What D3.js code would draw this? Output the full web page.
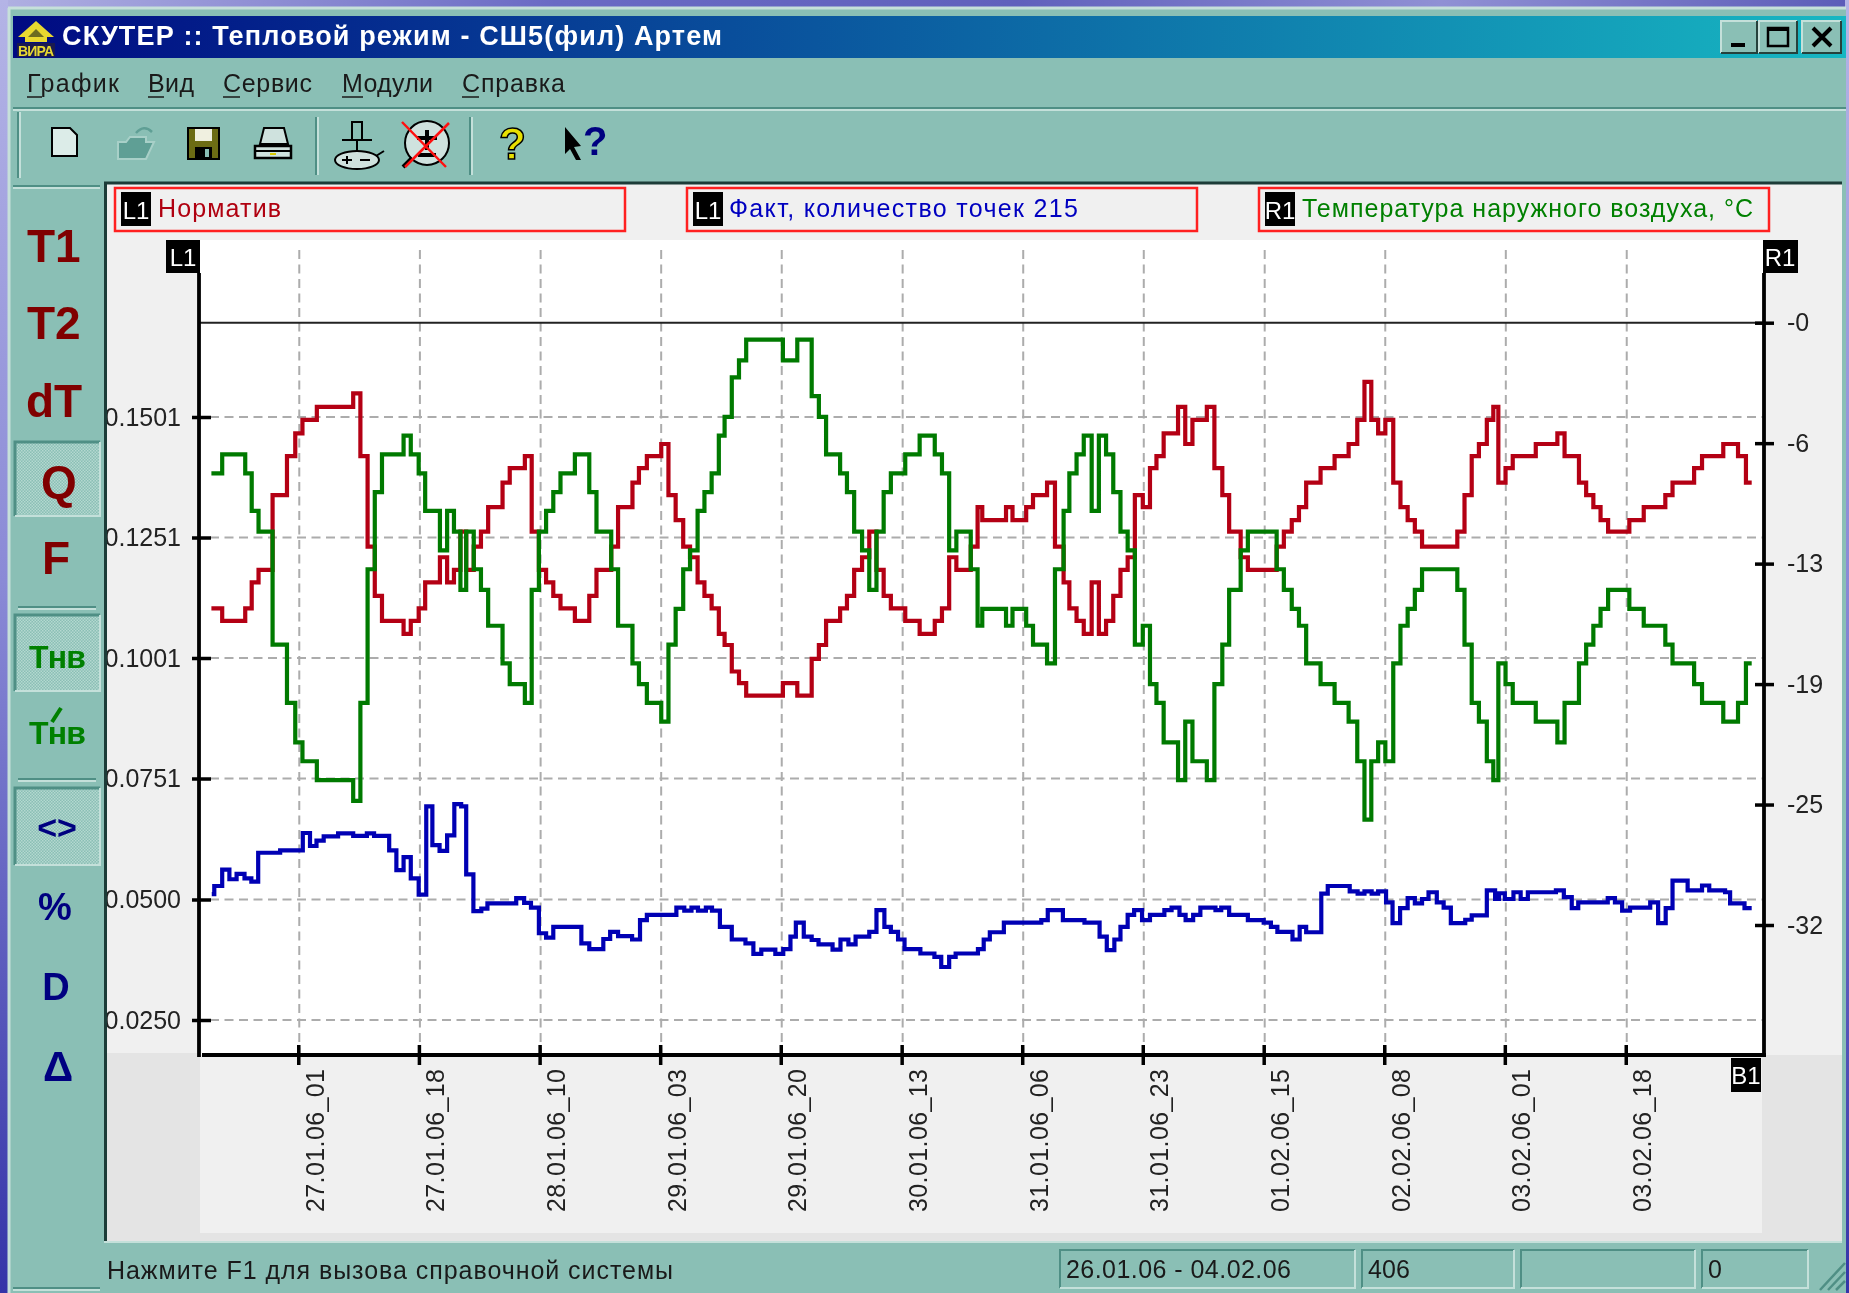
<!DOCTYPE html>
<html>
<head>
<meta charset="utf-8">
<style>
  html, body { margin: 0; padding: 0; background: #8abfb5; overflow: hidden; }
  svg { display: block; filter: blur(0.6px); }
  text { font-family: "Liberation Sans", Arial, sans-serif; }
</style>
<script src="https://cdnjs.cloudflare.com/ajax/libs/d3/7.8.5/d3.min.js"></script>
</head>
<body>
<div id="chart"></div>
<script>
// Chart Params
var svgWidth = 1849;
var svgHeight = 1293;

// tick labels
var leftTicks = [0.1501, 0.1251, 0.1001, 0.0751, 0.05, 0.025];
var rightTicks = [0, -6.4, -12.8, -19.2, -25.6, -32];
var rightLabels = ["-0", "-6", "-13", "-19", "-25", "-32"];
var dateTickPos = [12.07, 28.83, 45.6, 62.35, 79.1, 95.9, 112.65, 129.4, 146.2, 162.95, 179.7, 196.5];
var dateLabels = ["27.01.06_01", "27.01.06_18", "28.01.06_10", "29.01.06_03", "29.01.06_20", "30.01.06_13",
  "31.01.06_06", "31.01.06_23", "01.02.06_15", "02.02.06_08", "03.02.06_01", "03.02.06_18"];
var lastPoint = 214;

// point position where the stepped value changes (norm and outdoor temp change together)
var stepPos = [0, 1.5, 4.7, 5.6, 6.55, 8.5, 10.5, 11.65, 12.65, 14.65, 19.7, 20.7, 21.7, 22.7, 23.7, 26.7, 27.7, 28.8, 29.7,
  31.75, 32.75, 33.7, 34.6, 35.4, 36.45, 37.45, 38.45, 40.45, 41.45, 43.55, 44.5, 45.5, 46.5, 47.5, 48.5, 50.5, 52.5, 53.5,
  55.55, 56.5, 58.5, 59.4, 60.5, 62.5, 63.5, 64.5, 65.55, 66.5, 67.55, 68.5, 69.5, 70.5, 71.3, 72.3, 73.3, 74.3, 79.4, 81.4,
  83.4, 84.4, 85.4, 87.35, 88.3, 89.3, 90.4, 91.4, 92.4, 93.4, 94.4, 96.4, 98.4, 100.5, 101.5, 102.5, 103.5, 105.5, 106.45,
  107.1, 110.4, 111.3, 113.2, 114.15, 116.1, 117.2, 118.4, 119.2, 120.2, 121.2, 122.3, 123.3, 124.3, 125.3, 126.3, 127.3,
  128.3, 129.4, 130.4, 131.3, 132.3, 134.3, 135.3, 136.3, 138.3, 139.35, 140.45, 141.4, 143, 144, 148, 149, 150.1, 151.1,
  152.1, 154.1, 156.05, 158, 159.2, 160.2, 161.15, 162.1, 163.1, 164.2, 165.2, 166.2, 167.2, 168.2, 173.1, 174.1, 175.1,
  176.1, 177.2, 178.1, 178.8, 179.8, 180.8, 184, 187, 188, 190, 191, 192, 193, 194.05, 197, 199, 202, 203, 206, 207.1,
  210.05, 212.1, 213.2];

// green line, right axis, degrees C
var tempValues = [-8, -7, -8, -10, -11.1, -17.1, -20.2, -22.3, -23.3, -24.3, -25.4, -20.2, -13.1, -9, -7, -6, -7, -8, -10,
  -12.1, -10, -11.1, -14.2, -11.1, -13.1, -14.2, -16.1, -18.1, -19.2, -20.2, -14.2, -11.1, -10, -9, -8, -7, -9, -11.1,
  -13.1, -16.1, -18.1, -19.2, -20.2, -21.2, -17.1, -15.2, -13.1, -12.1, -10, -9, -8, -6, -5, -2.9, -2, -0.9, -2, -0.9,
  -3.9, -5, -7, -8, -9, -11.1, -12.1, -14.2, -11.1, -9, -8, -7, -6, -7, -8, -12.1, -11.1, -13.1, -16.1,
  -15.2, -16.1, -15.2, -16.1, -17.1, -18.1, -13.1, -10, -8, -7, -6, -10, -6, -7, -9, -11.1, -12.1,
  -17.1, -16.1, -19.2, -20.2, -22.3, -24.3, -21.2, -23.3, -24.3, -19.2, -17.1, -14.2, -12.1, -11.1, -13.1, -14.2, -15.2, -16.1,
  -18.1, -19.2, -20.2, -21.2, -23.3, -26.4, -23.3, -22.3, -23.3, -18.1, -16.1, -15.2, -14.2, -13.1, -14.2, -17.1, -20.2,
  -21.2, -23.3, -24.3, -18.1, -19.2, -20.2, -21.2, -22.3, -20.2, -18.1, -17.1, -16.1, -15.2, -14.2, -15.2, -16.1, -17.1, -18.1, -19.2, -20.2,
  -21.2, -20.2, -18.1];

// red line, left axis
var normValues = [.1104, .1078, .1104, .1158, .1184, .1339, .1420, .1467, .1495, .1522, .1550, .1420, .1232, .1130, .1078, .1051, .1078, .1104, .1158,
  .1210, .1158, .1184, .1263, .1184, .1232, .1263, .1314, .1365, .1395, .1420, .1263, .1184, .1158, .1130, .1104, .1078, .1130, .1184,
  .1232, .1314, .1365, .1395, .1420, .1445, .1339, .1287, .1232, .1210, .1158, .1130, .1104, .1051, .1028, .0973, .0949, .0923, .0949, .0923,
  .0999, .1028, .1078, .1104, .1130, .1184, .1210, .1263, .1184, .1130, .1104, .1078, .1051, .1078, .1104, .1210, .1184, .1232, .1314,
  .1287, .1314, .1287, .1314, .1339, .1365, .1232, .1158, .1104, .1078, .1051, .1158, .1051, .1078, .1130, .1184, .1210,
  .1339, .1314, .1395, .1420, .1467, .1522, .1445, .1495, .1522, .1395, .1339, .1263, .1210, .1184, .1232, .1263, .1287, .1314,
  .1365, .1395, .1420, .1445, .1495, .1574, .1495, .1467, .1495, .1365, .1314, .1287, .1263, .1232, .1263, .1339, .1420,
  .1445, .1495, .1522, .1365, .1395, .1420, .1445, .1467, .1420, .1365, .1339, .1314, .1287, .1263, .1287, .1314, .1339, .1365, .1395, .1420,
  .1445, .1420, .1365];

// blue line, left axis
var factPos = [0.05, 0.4, 1.5, 2.5, 3.5, 4.6, 5.55, 6.5, 9.55, 12.7, 13.7, 14.6, 15.6, 17.6, 19.7, 21.6, 22.6, 24.7, 25.7, 26.7, 27.7, 28.8,
  29.85, 30.7, 31.7, 32.75, 33.75, 34.7, 35.4, 36.4, 37.5, 38.35, 42.35, 43.45, 44.4, 45.5, 46.5, 47.5, 51.4, 52.5, 54.45, 55.4, 56.5,
  58.45, 59.55, 60.5, 64.6, 65.7, 66.7, 67.6, 68.7, 69.55, 70.65, 72.3, 74.2, 75.3, 76.4, 78.35, 79.45, 80.45, 81.2, 82.3, 83.4, 84.35,
  86.3, 87.4, 88.5, 89.5, 91.4, 92.4, 93.5, 94.4, 95.4, 96.3, 98.5, 100.45, 101.4, 102.5, 103.4, 106.5, 107.3, 108.15, 110.1, 115.3,
  116.2, 118.3, 121.3, 123.4, 124.4, 125.45, 126.3, 127.3, 128.2, 129.3, 130.4, 132.4, 133.4, 134.5, 135.35, 136.4, 137.4, 139.5, 140.3,
  141.4, 144, 146.2, 147.2, 148.1, 150.2, 151.2, 152.1, 154.2, 155.1, 158.15, 159.25, 160.2, 161.2, 162.1, 163.2, 164.1, 165.15, 166.2,
  167.2, 168.2, 169.1, 170.25, 171.2, 172.2, 174.2, 175.1, 177.2, 178.35, 178.9, 179.7, 180.9, 181.9, 182.9, 186.8, 187.9, 189, 189.9,
  194, 195, 196, 197.1, 199.9, 201, 202.05, 203, 205.1, 207.1, 208.1, 210.3, 211, 213];
var factValues = [.0511, .0528, .0562, .0542, .0553, .0544, .0537, .0597, .0602, .0638, .0611, .0622, .0631, .0637, .0632, .0637, .0632, .0602, .0561, .0588, .0544, .0510,
  .0693, .0613, .0601, .0633, .0698, .0693, .0552, .0476, .0481, .0492, .0503, .0493, .0483, .0430, .0421, .0443, .0409, .0397, .0418, .0433, .0424,
  .0417, .0457, .0468, .0483, .0477, .0483, .0477, .0483, .0477, .0443, .0417, .0409, .0387, .0396, .0387, .0397, .0423, .0452, .0423, .0416, .0407,
  .0396, .0417, .0407, .0423, .0433, .0478, .0443, .0433, .0417, .0397, .0388, .0381, .0360, .0381, .0388, .0397, .0417, .0432, .0452, .0457,
  .0478, .0457, .0452, .0423, .0395, .0417, .0443, .0468, .0478, .0457, .0468, .0478, .0483, .0468, .0457, .0468, .0483, .0478, .0483,
  .0468, .0457, .0452, .0443, .0433, .0417, .0443, .0432, .0512, .0528, .0517, .0512, .0517, .0512, .0517, .0494, .0451, .0482, .0503,
  .0492, .0501, .0515, .0494, .0483, .0451, .0458, .0467, .0519, .0501, .0513, .0501, .0515, .0501, .0515, .0519, .0505, .0482, .0494,
  .0503, .0494, .0477, .0483, .0494, .0451, .0482, .0539, .0519, .0529, .0519, .0515, .0492, .0482];

// legend and window texts
var legendTexts = ["Норматив", "Факт, количество точек 215", "Температура наружного воздуха, °С"];
var menuItems = ["График", "Вид", "Сервис", "Модули", "Справка"];
var statusTexts = ["26.01.06 - 04.02.06", "406", "", "0"];

var plot = { left: 200, right: 1764, top: 240, bottom: 1055 };

var svg = d3.select("#chart").append("svg")
  .attr("width", svgWidth)
  .attr("height", svgHeight);

var defs = svg.append("defs");

var titleGrad = defs.append("linearGradient").attr("id", "titleGrad");
titleGrad.append("stop").attr("offset", "0").attr("stop-color", "#000a82");
titleGrad.append("stop").attr("offset", "1").attr("stop-color", "#17b7c2");

var leftBg = defs.append("linearGradient").attr("id", "leftBg").attr("x2", 0).attr("y2", 1);
leftBg.append("stop").attr("offset", "0").attr("stop-color", "#b4b4e6");
leftBg.append("stop").attr("offset", "0.45").attr("stop-color", "#8a8ad6");
leftBg.append("stop").attr("offset", "1").attr("stop-color", "#3434a8");

var topBg = defs.append("linearGradient").attr("id", "topBg");
topBg.append("stop").attr("offset", "0").attr("stop-color", "#b0b0e2");
topBg.append("stop").attr("offset", "0.3").attr("stop-color", "#6a6ac4");
topBg.append("stop").attr("offset", "0.55").attr("stop-color", "#6060bc");
topBg.append("stop").attr("offset", "0.78").attr("stop-color", "#9090d4");
topBg.append("stop").attr("offset", "1").attr("stop-color", "#5c5cb8");

var dither = defs.append("pattern").attr("id", "dither")
  .attr("width", 3).attr("height", 3).attr("patternUnits", "userSpaceOnUse");
dither.append("rect").attr("width", 3).attr("height", 3).attr("fill", "#8abfb5");
dither.append("rect").attr("width", 1.5).attr("height", 1.5).attr("fill", "#b4d8d0");
dither.append("rect").attr("x", 1.5).attr("y", 1.5).attr("width", 1.5).attr("height", 1.5).attr("fill", "#b4d8d0");

defs.append("clipPath").attr("id", "panelClip").append("rect")
  .attr("x", 107).attr("y", 184).attr("width", 1735).attr("height", 1056);

// small helpers for the window chrome
function box(g, x, y, w, h, fill, stroke, sw) {
  return g.append("rect").attr("x", x).attr("y", y).attr("width", w).attr("height", h)
    .attr("fill", fill || "none").attr("stroke", stroke || "none").attr("stroke-width", sw || 0);
}
function line(g, x1, y1, x2, y2, color, sw) {
  return g.append("line").attr("x1", x1).attr("y1", y1).attr("x2", x2).attr("y2", y2)
    .attr("stroke", color).attr("stroke-width", sw || 1);
}
function label(g, x, y, str, size, fill, opts) {
  opts = opts || {};
  var t = g.append("text").attr("x", x).attr("y", y).text(str)
    .attr("font-size", size).attr("fill", fill)
    .attr("font-weight", opts.weight || "normal")
    .attr("text-anchor", opts.anchor || "start");
  if (opts.len) t.attr("textLength", opts.len).attr("lengthAdjust", opts.adjust || "spacing");
  return t;
}
function etched(g, x1, y1, x2, y2) {
  line(g, x1, y1, x2, y2, "#4f8f85", 2);
  if (x1 === x2) line(g, x1 + 2, y1, x2 + 2, y2, "#c4e0da", 2);
  else line(g, x1, y1 + 2, x2, y2 + 2, "#c4e0da", 2);
}
function pressed(g, x, y, w, h) {
  box(g, x, y, w, h, "url(#dither)");
  g.append("path").attr("d", `M${x},${y + h}V${y}H${x + w}`).attr("fill", "none").attr("stroke", "#4f8f85").attr("stroke-width", 3);
  g.append("path").attr("d", `M${x + w},${y}V${y + h}H${x}`).attr("fill", "none").attr("stroke", "#c4e0da").attr("stroke-width", 2);
}

// ---- window background ----
var chrome = svg.append("g");
box(chrome, 0, 0, svgWidth, 8, "url(#topBg)");
box(chrome, 0, 0, 8, svgHeight, "url(#leftBg)");
box(chrome, 1845, 0, 4, svgHeight, "url(#leftBg)");
box(chrome, 8, 8, 1838, 1285, "#8abfb5");
line(chrome, 8, 8, 1846, 8, "#c6e0da", 3);
line(chrome, 9, 8, 9, 1293, "#c6e0da", 3);

// title bar
box(chrome, 13, 16, 1833, 42, "url(#titleGrad)");
chrome.append("path").attr("d", "M36,21L54,37L47,37L47,42L25,42L25,37L18,37Z").attr("fill", "#e8d830");
chrome.append("path").attr("d", "M36,29L44,37L28,37Z").attr("fill", "#6c6c20");
box(chrome, 17, 43, 38, 14, "#1a1a50");
label(chrome, 18, 56, "ВИРА", 14, "#e8d830", { weight: "bold", len: 36 });
label(chrome, 62, 45, "СКУТЕР :: Тепловой режим - СШ5(фил) Артем", 27, "#ffffff", { weight: "bold", len: 660 });

// min / max / close
[[1721, 36], [1759, 38], [1802, 39]].forEach(function(b) {
  box(chrome, b[0], 21, b[1], 32, "#8abfb5");
  chrome.append("path").attr("d", `M${b[0]},53V21H${b[0] + b[1]}`).attr("fill", "none").attr("stroke", "#c4e0da").attr("stroke-width", 2);
  chrome.append("path").attr("d", `M${b[0] + b[1]},21V53H${b[0]}`).attr("fill", "none").attr("stroke", "#26413c").attr("stroke-width", 2);
});
box(chrome, 1731, 43, 14, 4, "#000");
box(chrome, 1768, 28, 20, 18, "none", "#000", 2.5);
line(chrome, 1768, 29, 1788, 29, "#000", 4);
chrome.append("path").attr("d", "M1813,28L1831,46M1831,28L1813,46").attr("stroke", "#000").attr("stroke-width", 4);

// menu
var menuX = [27, 148, 223, 342, 462];
var menuLen = [92, 46, 89, 91, 103];
var menuFirst = [15, 16, 17, 21, 17];
menuItems.forEach(function(m, i) {
  label(chrome, menuX[i], 92, m, 25, "#1a1a1a", { len: menuLen[i] });
  line(chrome, menuX[i], 97, menuX[i] + menuFirst[i], 97, "#1a1a1a", 1.5);
});
etched(chrome, 13, 108, 1846, 108);

// toolbar
etched(chrome, 18, 112, 18, 178);
etched(chrome, 316, 117, 316, 175);
etched(chrome, 470, 117, 470, 175);
etched(chrome, 13, 186, 100, 186);

// new page
chrome.append("path").attr("d", "M52,128H70L77,135V156H52Z").attr("fill", "#dcecE8").attr("stroke", "#000").attr("stroke-width", 2);
// open (disabled)
chrome.append("path").attr("d", "M118,142H126L130,137H146V142L154,142L146,159H118Z").attr("fill", "#5f9f95").attr("stroke", "#a8d0c8").attr("stroke-width", 2);
chrome.append("path").attr("d", "M136,133Q144,124 152,132").attr("fill", "none").attr("stroke", "#5f9f95").attr("stroke-width", 2.5);
// save
box(chrome, 188, 128, 31, 31, "#6c6c14", "#000", 2);
box(chrome, 195, 129, 17, 12, "#f0f0e0");
box(chrome, 195, 147, 17, 12, "#000");
box(chrome, 205, 149, 4, 8, "#8abfb5");
// print
chrome.append("path").attr("d", "M264,128H284L288,144H260Z").attr("fill", "#cfe2de").attr("stroke", "#000").attr("stroke-width", 2);
chrome.append("path").attr("d", "M255,146H291V158H255Z").attr("fill", "#cfe2de").attr("stroke", "#000").attr("stroke-width", 2.5);
line(chrome, 255, 151, 291, 151, "#000", 2);
line(chrome, 270, 154, 276, 154, "#d8c800", 2);
// zoom in
chrome.append("path").attr("d", "M352,122H362V140H352ZM357,140V150").attr("fill", "#8abfb5").attr("stroke", "#000").attr("stroke-width", 2);
line(chrome, 342, 140, 372, 140, "#000", 2);
chrome.append("ellipse").attr("cx", 357).attr("cy", 160).attr("rx", 22).attr("ry", 9).attr("fill", "#cfe2de").attr("stroke", "#000").attr("stroke-width", 2);
chrome.append("path").attr("d", "M342,160H352M347,156V164M360,160H370M376,156L384,151").attr("stroke", "#000").attr("stroke-width", 2);
// zoom out (crossed)
chrome.append("circle").attr("cx", 427).attr("cy", 143).attr("r", 22).attr("fill", "#cfe2de").attr("stroke", "#000").attr("stroke-width", 2);
chrome.append("path").attr("d", "M427,130V150M417,138H437M418,155H436M412,158L403,167").attr("stroke", "#000").attr("stroke-width", 4);
chrome.append("path").attr("d", "M402,122L446,167M449,123L405,167").attr("stroke", "#ff1010").attr("stroke-width", 2.5);
// help
label(chrome, 499, 159, "?", 44, "#e8e000", { weight: "bold" }).attr("stroke", "#000").attr("stroke-width", 1.5);
chrome.append("path").attr("d", "M565,127L581,146L574,147L581,160L576,160L570,149L565,154Z").attr("fill", "#000");
label(chrome, 583, 155, "?", 40, "#000080", { weight: "bold" }).attr("font-family", "Liberation Serif");

// left tool strip
[[442, 74], [615, 76], [788, 77]].forEach(function(b) { pressed(chrome, 15, b[0], 85, b[1]); });
etched(chrome, 18, 607, 96, 607);
etched(chrome, 18, 779, 96, 779);
label(chrome, 27, 262, "T1", 46, "#800000", { weight: "bold" });
label(chrome, 27, 339, "T2", 46, "#800000", { weight: "bold" });
label(chrome, 26, 417, "dT", 46, "#800000", { weight: "bold" });
label(chrome, 59, 498, "Q", 46, "#800000", { weight: "bold", anchor: "middle" });
label(chrome, 56, 574, "F", 46, "#800000", { weight: "bold", anchor: "middle" });
label(chrome, 29, 668, "Тнв", 32, "#008000", { weight: "bold", len: 57 });
label(chrome, 29, 744, "Тнв", 32, "#008000", { weight: "bold", len: 57 });
chrome.append("path").attr("d", "M52,722L61,708").attr("stroke", "#008000").attr("stroke-width", 4);
label(chrome, 57, 839, "<>", 34, "#000080", { weight: "bold", anchor: "middle" });
label(chrome, 55, 920, "%", 38, "#000080", { weight: "bold", anchor: "middle" });
label(chrome, 56, 1000, "D", 38, "#000080", { weight: "bold", anchor: "middle" });
label(chrome, 58, 1081, "Δ", 42, "#000080", { weight: "bold", anchor: "middle" });

// status bar
label(chrome, 107, 1279, "Нажмите F1 для вызова справочной системы", 25, "#1a1a1a", { len: 566 });
var statusBoxes = [[1060, 295], [1362, 152], [1521, 174], [1702, 106]];
var statusLen = [225, 42, 0, 12];
statusBoxes.forEach(function(b, i) {
  box(chrome, b[0], 1250, b[1], 38, "none", null);
  chrome.append("path").attr("d", `M${b[0]},1288V1250H${b[0] + b[1]}`).attr("fill", "none").attr("stroke", "#4f8f85").attr("stroke-width", 2);
  chrome.append("path").attr("d", `M${b[0] + b[1]},1250V1288H${b[0]}`).attr("fill", "none").attr("stroke", "#c4e0da").attr("stroke-width", 2);
  if (statusTexts[i]) label(chrome, b[0] + 6, 1278, statusTexts[i], 25, "#1a1a1a", { len: statusLen[i] });
});
chrome.append("path").attr("d", "M1820,1290L1845,1263M1828,1290L1845,1272M1836,1290L1845,1281").attr("stroke", "#4f8f85").attr("stroke-width", 2.5);
etched(chrome, 13, 1288, 100, 1288);

// ---- chart panel ----
var panel = svg.append("g");
box(panel, 104, 182, 1738, 1059, "#f0f0f0");
box(panel, 107, 1053, 93, 187, "#e4e4e4");
box(panel, 1762, 1055, 80, 185, "#e4e4e4");
box(panel, 107, 1233, 1735, 8, "#e4e4e4");
line(panel, 105.5, 182, 105.5, 1241, "#1c3c38", 3);
line(panel, 104, 183, 1842, 183, "#1c3c38", 3);
line(panel, 104, 1242, 1842, 1242, "#c4e0da", 2);
box(panel, plot.left, plot.top, plot.right - plot.left, plot.bottom - plot.top, "#ffffff");

// legend
var legendBoxX = [115, 687, 1259];
var legendColors = ["#b00010", "#0000c0", "#008000"];
var legendTextX = [158, 729, 1302];
var legendLen = [123, 349, 451];
var legendTags = ["L1", "L1", "R1"];
legendTexts.forEach(function(t, i) {
  box(panel, legendBoxX[i], 188, 510, 43, "#f0f0f0", "#ff2020", 2.5);
  box(panel, legendBoxX[i] + 6, 192, 30, 34, "#000");
  label(panel, legendBoxX[i] + 21, 219, legendTags[i], 24, "#fff", { anchor: "middle" });
  label(panel, legendTextX[i], 217, t, 25, legendColors[i], { len: legendLen[i] });
});

// scales
var xScale = d3.scaleLinear().domain([0, lastPoint]).range([211.4, 1751.7]);
var yLeft = d3.scaleLinear().domain([0.025, 0.1501]).range([1020, 417]);
var yRight = d3.scaleLinear().domain([0, -32]).range([322.7, 925]);

// gridlines
var grid = svg.append("g").attr("stroke", "#acacac").attr("stroke-width", 2).attr("stroke-dasharray", "9,5.5");
grid.selectAll("line.v").data(dateTickPos).enter().append("line")
  .attr("x1", d => xScale(d) + 1).attr("x2", d => xScale(d) + 1)
  .attr("y1", 250).attr("y2", plot.bottom);
grid.selectAll("line.h").data(leftTicks).enter().append("line")
  .attr("x1", plot.left + 10).attr("x2", plot.right)
  .attr("y1", d => yLeft(d)).attr("y2", d => yLeft(d));

// zero line of the right axis
line(svg, plot.left, yRight(0), plot.right, yRight(0), "#222", 2);

// step lines
function stepLine(pos, values, yScale, color) {
  var pts = pos.map((p, i) => ({ p: p, v: values[i] }));
  pts.push({ p: lastPoint, v: values[values.length - 1] });
  var path = d3.line()
    .x(d => xScale(d.p))
    .y(d => yScale(d.v))
    .curve(d3.curveStepAfter);
  svg.append("path").datum(pts)
    .attr("d", path)
    .attr("fill", "none")
    .attr("stroke", color)
    .attr("stroke-width", 4.2)
    .attr("stroke-linejoin", "miter");
}
stepLine(factPos, factValues, yLeft, "#0000b4");
stepLine(stepPos, normValues, yLeft, "#b40014");
stepLine(stepPos, tempValues, yRight, "#007a00");

// axes
var axes = svg.append("g").attr("clip-path", "url(#panelClip)");

var leftAxis = axes.append("g")
  .attr("transform", `translate(${plot.left - 1},0)`)
  .call(d3.axisLeft(yLeft).tickValues(leftTicks).tickFormat(d3.format(".4f")).tickSize(0).tickPadding(18));
leftAxis.select(".domain").remove();
leftAxis.selectAll(".tick line").attr("x1", -7).attr("x2", 12).attr("stroke", "#000").attr("stroke-width", 3.5);
leftAxis.selectAll("text").attr("font-size", 25).attr("fill", "#222").attr("font-family", "Liberation Sans");

var rightAxis = axes.append("g")
  .attr("transform", `translate(${plot.right},0)`)
  .call(d3.axisRight(yRight).tickValues(rightTicks).tickFormat((d, i) => rightLabels[i]).tickSize(0).tickPadding(23));
rightAxis.select(".domain").remove();
rightAxis.selectAll(".tick line").attr("x1", -9).attr("x2", 10).attr("stroke", "#000").attr("stroke-width", 3.5);
rightAxis.selectAll("text").attr("font-size", 25).attr("fill", "#222").attr("font-family", "Liberation Sans");

var bottomAxis = axes.append("g")
  .attr("transform", `translate(0,${plot.bottom})`)
  .call(d3.axisBottom(xScale).tickValues(dateTickPos).tickFormat((d, i) => dateLabels[i]).tickSize(0));
bottomAxis.select(".domain").remove();
bottomAxis.selectAll(".tick line").attr("y1", -10).attr("y2", 10).attr("stroke", "#000").attr("stroke-width", 3.5);
bottomAxis.selectAll("text")
  .attr("transform", "translate(25,157) rotate(-90)")
  .attr("x", 0).attr("y", 0).attr("dy", 0)
  .attr("text-anchor", "start")
  .attr("textLength", 143)
  .attr("font-size", 25).attr("fill", "#222").attr("font-family", "Liberation Sans");

// axis lines and their tags
line(svg, plot.left - 1, 273, plot.left - 1, plot.bottom + 2, "#000", 3.8);
line(svg, plot.right, 273, plot.right, plot.bottom + 2, "#000", 3.8);
line(svg, plot.left + 2, plot.bottom, plot.right + 2, plot.bottom, "#000", 3.8);

box(svg, 166, 240, 34, 33, "#000");
label(svg, 183, 266, "L1", 24, "#fff", { anchor: "middle" });
box(svg, 1763, 240, 35, 33, "#000");
label(svg, 1780, 266, "R1", 24, "#fff", { anchor: "middle" });
box(svg, 1731, 1058, 30, 34, "#000");
label(svg, 1746, 1084, "B1", 24, "#fff", { anchor: "middle" });
</script>
</body>
</html>
